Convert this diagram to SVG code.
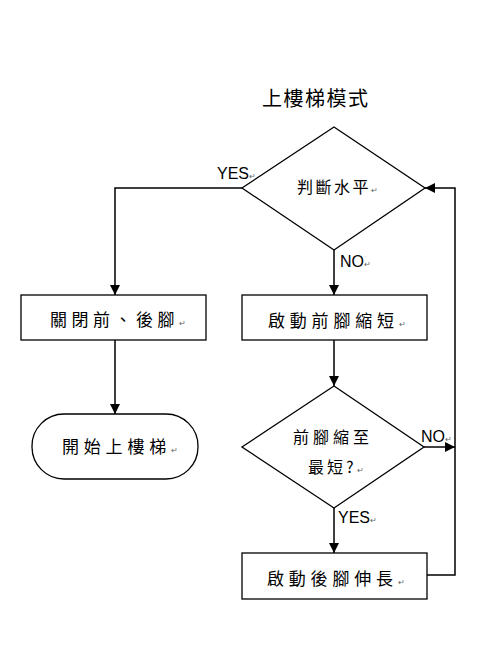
<svg xmlns="http://www.w3.org/2000/svg" width="504" height="646" viewBox="0 0 504 646">
<style>
.sh{fill:#fff;stroke:#000;stroke-width:1.3}
.ln{fill:none;stroke:#000;stroke-width:1.5}
.cj{font-family:"Noto Sans CJK TC","Noto Sans CJK SC",sans-serif;font-size:17px;fill:#000}
.lb{font-family:"Liberation Sans",Arial,sans-serif;font-size:16px;fill:#000}
.rt{font-size:8px;fill:#666;letter-spacing:0}
</style>
<defs>
<marker id="ah" viewBox="0 0 10 10" refX="10" refY="5" markerWidth="10" markerHeight="10" markerUnits="userSpaceOnUse" orient="auto">
<path d="M0,0 L10,5 L0,10 Z" fill="#000"/>
</marker>
</defs>
<rect width="504" height="646" fill="#fff"/>
<text class="cj" x="262" y="106" style="font-size:20px;letter-spacing:1.5px">上樓梯模式</text>
<g id="connectors">
<polyline class="ln" points="242,188 115,188 115,295" marker-end="url(#ah)"/>
<line class="ln" x1="115" y1="340" x2="115" y2="414" marker-end="url(#ah)"/>
<line class="ln" x1="334" y1="250" x2="334" y2="295" marker-end="url(#ah)"/>
<line class="ln" x1="334" y1="340" x2="334" y2="386" marker-end="url(#ah)"/>
<line class="ln" x1="424" y1="447" x2="455" y2="447" marker-end="url(#ah)"/>
<line class="ln" x1="334" y1="508" x2="334" y2="553" marker-end="url(#ah)"/>
<polyline class="ln" points="427,575 455,575 455,188 425,188" marker-end="url(#ah)"/>
<text class="lb" x="217" y="179">YES<tspan class="rt">↵</tspan></text>
<text class="lb" x="340" y="267">NO<tspan class="rt">↵</tspan></text>
<text class="lb" x="421" y="442">NO<tspan class="rt">↵</tspan></text>
<text class="lb" x="338" y="523">YES<tspan class="rt">↵</tspan></text>
</g>
<g id="judge-level">
<polygon class="sh" points="334,127 425,188 334,250 242,188"/>
<text class="cj" x="297" y="193" style="font-size:16px;letter-spacing:2.5px">判斷水平<tspan class="rt">↵</tspan></text>
</g>
<g id="close-legs">
<rect class="sh" x="21" y="295" width="185" height="45"/>
<text class="cj" x="50" y="326" style="letter-spacing:4.5px">關閉前、後腳<tspan class="rt">↵</tspan></text>
</g>
<g id="start-climb">
<rect class="sh" x="32" y="414" width="166" height="65" rx="32" ry="32"/>
<text class="cj" x="62" y="453" style="letter-spacing:4.8px">開始上樓梯<tspan class="rt">↵</tspan></text>
</g>
<g id="front-shorten">
<rect class="sh" x="242" y="295" width="185" height="45"/>
<text class="cj" x="268" y="327" style="letter-spacing:4.8px">啟動前腳縮短<tspan class="rt">↵</tspan></text>
</g>
<g id="front-shortest">
<polygon class="sh" points="334,386 424,447 334,508 242,447"/>
<text class="cj" x="293" y="443" style="font-size:16px;letter-spacing:4px">前腳縮至</text>
<text class="cj" x="308" y="473" style="font-size:16px;letter-spacing:3px">最短?<tspan class="rt">↵</tspan></text>
</g>
<g id="rear-extend">
<rect class="sh" x="242" y="553" width="185" height="46"/>
<text class="cj" x="267" y="585" style="letter-spacing:4.8px">啟動後腳伸長<tspan class="rt">↵</tspan></text>
</g>
</svg>
